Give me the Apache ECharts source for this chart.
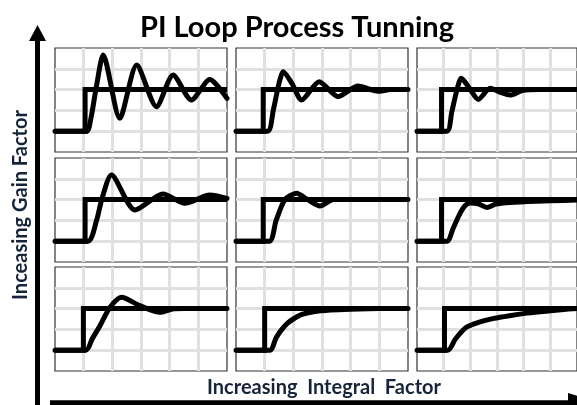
<!DOCTYPE html>
<html>
<head>
<meta charset="utf-8">
<script src="https://cdn.jsdelivr.net/npm/echarts@6/dist/echarts.min.js"></script>
<style>
  html, body { margin: 0; padding: 0; background: #fff; }
  #chart { width: 577px; height: 405px; }
</style>
</head>
<body>
<div id="chart"></div>
<script>
// Process-variable traces for a 3x3 tuning grid.
// Rows: gain factor (top = highest), columns: integral factor (right = highest).
// x = time divisions (0..6), y = level divisions (0..5).
const baselineLevel = 1;
const setpointLevel = 3;
const timeMax = 6;
const levelMax = 5;

// time of the setpoint step in each panel (row-major, top-left first)
const stepTimes = [1.05, 0.95, 0.92, 1.05, 0.95, 0.92, 0.99, 1.0, 1.03];

const respGainHiIntLo = [[0,1],[1.1,1],[1.25,1.6],[1.45,3.2],[1.68,4.66],[2.26,1.62],[2.85,4.18],[3.54,2.18],[4.12,3.7],[4.76,2.5],[5.4,3.49],[6,2.58]];
const respGainHiIntMid = [[0,1],[1.1,1],[1.3,2.0],[1.5,3.3],[1.65,3.86],[1.95,3.3],[2.29,2.5],[2.9,3.38],[3.56,2.66],[4.26,3.17],[4.95,2.92],[5.4,3.0],[6,3.0]];
const respGainHiIntHi = [[0,1],[1.12,1],[1.3,1.9],[1.5,3.0],[1.66,3.54],[1.95,3.1],[2.3,2.53],[2.74,3.06],[3.1,2.88],[3.5,2.74],[3.95,2.95],[4.6,3.0],[6,3.0]];
const respGainMidIntLo = [[0,1],[1.15,1],[1.45,2.0],[1.63,3.0],[1.97,4.18],[2.79,2.5],[3.77,3.27],[4.53,2.82],[5.4,3.22],[6,3.06]];
const respGainMidIntMid = [[0,1],[1.16,1],[1.4,2.0],[1.71,3.0],[2.11,3.3],[2.5,3.0],[2.93,2.69],[3.4,3.0],[6,3.0]];
const respGainMidIntHi = [[0,1],[1.12,1],[1.35,1.6],[1.6,2.3],[1.8,2.7],[2.0,2.84],[2.3,2.8],[2.62,2.62],[2.95,2.78],[3.5,2.86],[4.5,2.92],[5.5,2.96],[6,2.98]];
const respGainLoIntLo = [[0,1],[1.08,1],[1.3,1.55],[1.57,2.18],[1.92,3.06],[2.32,3.54],[2.96,3.14],[3.66,2.82],[4.1,2.98],[4.5,3.0],[6,3.0]];
const respGainLoIntMid = [[0,1],[1.18,1],[1.4,1.6],[1.6,2.0],[1.8,2.3],[2.0,2.5],[2.3,2.72],[2.7,2.85],[3.3,2.93],[4.0,2.97],[5,3.0],[6,3.0]];
const respGainLoIntHi = [[0,1],[1.15,1],[1.44,1.54],[1.85,2.1],[2.31,2.34],[2.89,2.53],[3.47,2.66],[4.05,2.77],[4.63,2.85],[5.6,2.97],[6,3.0]];

const responses = [
  respGainHiIntLo, respGainHiIntMid, respGainHiIntHi,
  respGainMidIntLo, respGainMidIntMid, respGainMidIntHi,
  respGainLoIntLo, respGainLoIntMid, respGainLoIntHi
];

const titleText = 'PI Loop Process Tunning';
const gainAxisText = 'Inceasing Gain Factor';
const integralAxisText = 'Increasing  Integral  Factor';

// panel layout (pixels)
const colLeft = [55, 236, 417];
const rowTop = [48, 158, 267];
const panelW = 172;
const panelH = 104;

const grids = [], xAxes = [], yAxes = [], series = [];
const gridLineStyle = { color: '#e0e0e0', width: 3 };

responses.forEach((resp, i) => {
  const r = Math.floor(i / 3), c = i % 3;
  grids.push({
    left: colLeft[c], top: rowTop[r], width: panelW, height: panelH,
    show: true, backgroundColor: '#fff', borderColor: '#333', borderWidth: 1.2
  });
  xAxes.push({
    gridIndex: i, type: 'value', min: 0, max: timeMax, interval: 1,
    axisLine: { show: false }, axisTick: { show: false }, axisLabel: { show: false },
    splitLine: { show: true, showMinLine: false, showMaxLine: false, lineStyle: gridLineStyle }
  });
  yAxes.push({
    gridIndex: i, type: 'value', min: 0, max: levelMax, interval: 1,
    axisLine: { show: false }, axisTick: { show: false }, axisLabel: { show: false },
    splitLine: { show: true, showMinLine: false, showMaxLine: false, lineStyle: gridLineStyle }
  });
  const t = stepTimes[i];
  series.push({
    type: 'line', xAxisIndex: i, yAxisIndex: i, showSymbol: false, symbol: 'none',
    data: [[0, baselineLevel], [t, baselineLevel], [t, setpointLevel], [timeMax, setpointLevel]],
    lineStyle: { color: '#000', width: 5, join: 'miter', cap: 'butt' },
    silent: true, z: 3
  });
  series.push({
    type: 'line', xAxisIndex: i, yAxisIndex: i, showSymbol: false, symbol: 'none',
    smooth: 0.25,
    data: resp,
    lineStyle: { color: '#000', width: 5, join: 'round', cap: 'round' },
    silent: true, z: 4
  });
});

const chart = echarts.init(document.getElementById('chart'), null, { renderer: 'canvas' });
chart.setOption({
  animation: false,
  backgroundColor: '#fff',
  grid: grids,
  xAxis: xAxes,
  yAxis: yAxes,
  series: series,
  graphic: [
    {
      type: 'text', x: 297, y: 28, z: 10,
      style: { text: titleText, font: 'bold 29px Lato', fill: '#000', align: 'center', verticalAlign: 'middle' }
    },
    {
      type: 'text', x: 21, y: 205, rotation: Math.PI / 2, z: 10,
      style: { text: gainAxisText, font: 'bold 20px Lato', fill: '#16243a', align: 'center', verticalAlign: 'middle' }
    },
    {
      type: 'text', x: 324, y: 388, z: 10,
      style: { text: integralAxisText, font: 'bold 20px Lato', fill: '#16243a', align: 'center', verticalAlign: 'middle' }
    },
    // vertical arrow
    { type: 'line', z: 10, shape: { x1: 37.5, y1: 410, x2: 37.5, y2: 38 }, style: { stroke: '#000', lineWidth: 5 } },
    { type: 'polygon', z: 10, shape: { points: [[29, 41], [37.5, 25], [46, 41]] }, style: { fill: '#000' } },
    // horizontal arrow
    { type: 'line', z: 10, shape: { x1: 50, y1: 403, x2: 590, y2: 403 }, style: { stroke: '#000', lineWidth: 5.5 } },
    { type: 'polygon', z: 10, shape: { points: [[568, 393], [600, 403], [568, 413]] }, style: { fill: '#000' } }
  ]
});
</script>
</body>
</html>
